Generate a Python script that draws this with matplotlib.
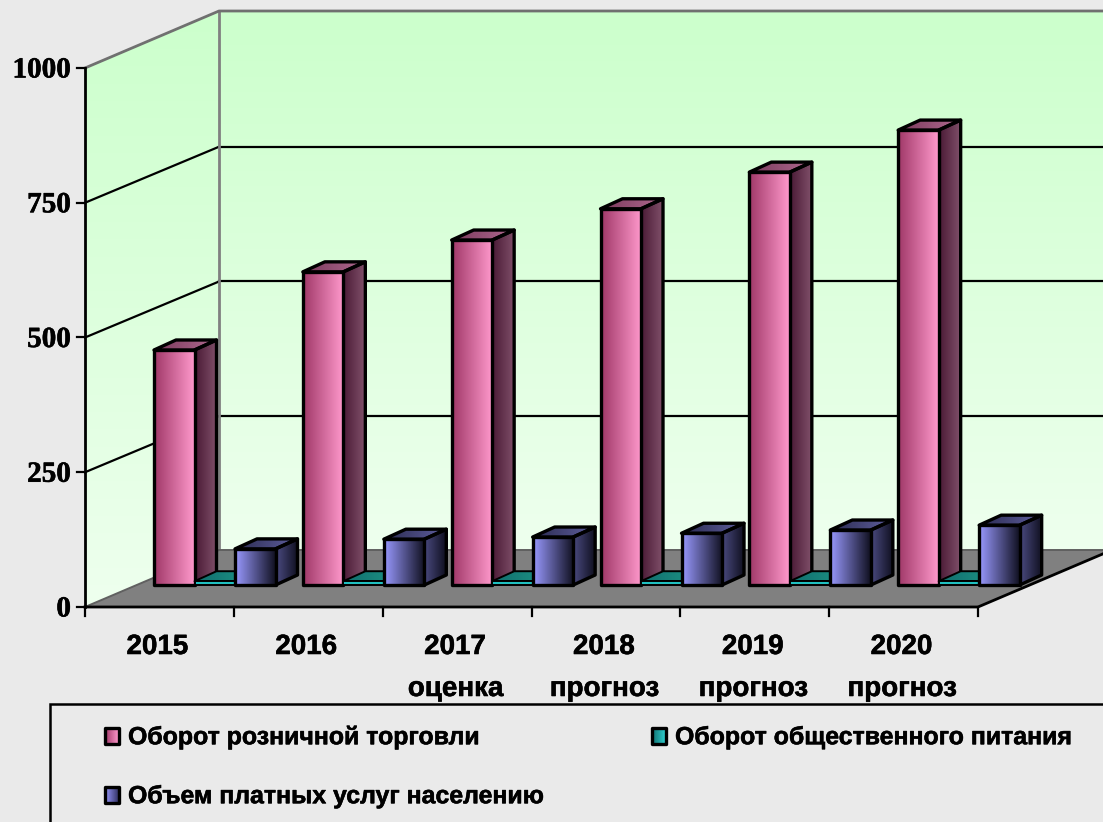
import numpy as np
import matplotlib
matplotlib.use('Agg')
import matplotlib.pyplot as plt
import matplotlib.patheffects as pe
from matplotlib.patches import Polygon, Rectangle

# chart data
years = ['2015', '2016', '2017', '2018', '2019', '2020']
notes = ['', '', 'оценка', 'прогноз', 'прогноз', 'прогноз']
y_ticks = [0, 250, 500, 750, 1000]
retail = [436, 581, 640, 698, 766, 844]
food = [7, 7, 7, 7, 7, 7]
services = [67, 85, 89, 96, 102, 111]
series_names = ['Оборот розничной торговли', 'Оборот общественного питания',
                'Объем платных услуг населению']

# geometry of the fake 3d box, in pixels
W, H = 1103, 822
X0, Y0 = 85, 607
Y_TOP = 68
X1 = 978
DX, DY = 134, 57
SCALE = (Y0 - Y_TOP) / 1000
CAT_W = (X1 - X0) / len(years)
BASE_Y = 585
BAR_W = 40.5
BAR_DX, BAR_DY = 22, 10
bold = [pe.withStroke(linewidth=0.4, foreground='black')]


def val_y(v, base=Y0):
    return base - v * SCALE


def grad_poly(ax, pts, c0, c1, vertical=False, z=2, edge=True, lw=2.4):
    # gradient filled polygon clipped from an image
    pts = np.array(pts, dtype=float)
    c0 = np.array(matplotlib.colors.to_rgb(c0))
    c1 = np.array(matplotlib.colors.to_rgb(c1))
    t = np.linspace(0, 1, 64)[:, None]
    img = c0 * (1 - t) + c1 * t
    img = img[:, None, :] if vertical else img[None, :, :]
    ext = [pts[:, 0].min(), pts[:, 0].max(), pts[:, 1].max(), pts[:, 1].min()]
    im = ax.imshow(img, extent=ext, aspect='auto', zorder=z, origin='upper', interpolation='bilinear')
    im.set_clip_path(Polygon(pts, transform=ax.transData))
    if edge:
        ax.add_patch(Polygon(pts, fill=False, ec='black', lw=lw, zorder=z + 0.1, joinstyle='round'))


def bar3d(ax, x, v, front, side, top, z, lw=2.4):
    h = v * SCALE
    yt = BASE_Y - h
    xr = x + BAR_W
    grad_poly(ax, [(xr, BASE_Y), (xr + BAR_DX, BASE_Y - BAR_DY), (xr + BAR_DX, yt - BAR_DY), (xr, yt)],
              side[0], side[1], z=z, lw=lw)
    grad_poly(ax, [(x, yt), (xr, yt), (xr + BAR_DX, yt - BAR_DY), (x + BAR_DX, yt - BAR_DY)],
              top[0], top[1], z=z, lw=lw)
    grad_poly(ax, [(x, BASE_Y), (xr, BASE_Y), (xr, yt), (x, yt)], front[0], front[1], z=z + 0.2, lw=lw)


fig = plt.figure(figsize=(W / 100, H / 100), dpi=100, facecolor='#EAEAEA')
ax = fig.add_axes([0, 0, 1, 1])
ax.set_facecolor('#EAEAEA')

# walls
far_x = W + 20
grad_poly(ax, [(X0 + DX, Y_TOP - DY), (far_x, Y_TOP - DY), (far_x, Y0 - DY), (X0 + DX, Y0 - DY)],
          '#CCFFCC', '#EEFFEE', vertical=True, z=1, edge=False)
grad_poly(ax, [(X0, Y_TOP), (X0 + DX, Y_TOP - DY), (X0 + DX, Y0 - DY), (X0, Y0)],
          '#CCFFCC', '#EEFFEE', vertical=True, z=1, edge=False)

# floor
ax.add_patch(Polygon([(X0, Y0), (X1, Y0), (X1 + DX, Y0 - DY), (X0 + DX, Y0 - DY)],
                     fc='#808080', ec='none', zorder=1.5))

# grid and box lines
for v in y_ticks[1:-1]:
    y = val_y(v)
    ax.plot([X0, X0 + DX], [y, y - DY + 1], color='black', lw=1.6, zorder=1.7)
    ax.plot([X0 + DX, far_x], [y - DY + 1, y - DY + 1], color='black', lw=1.6, zorder=1.7)
ax.plot([X0 + DX, X0 + DX], [Y_TOP - DY, Y0 - DY], color='#808080', lw=2, zorder=1.7)
ax.plot([X0, X0 + DX, far_x], [Y_TOP, Y_TOP - DY, Y_TOP - DY], color='#707070', lw=2, zorder=1.7)
ax.plot([X0, X0 + DX, far_x], [Y0, Y0 - DY, Y0 - DY], color='#606060', lw=1.4, zorder=1.7)
ax.plot([X0, X0], [Y_TOP, Y0], color='black', lw=2, zorder=1.8)
ax.plot([X0, X1, X1 + DX], [Y0, Y0, Y0 - DY], color='black', lw=2, zorder=1.8)

# ticks and labels
for v in y_ticks:
    y = val_y(v)
    ax.plot([X0 - 8, X0], [y, y], color='black', lw=1.6, zorder=1.8)
    ax.text(71, y + 2, str(v), ha='right', va='center', family='Liberation Serif',
            fontweight='bold', fontsize=21, color='black', path_effects=bold)
for i in range(len(years) + 1):
    x = X0 + i * CAT_W
    ax.plot([x, x], [Y0, Y0 + 9], color='black', lw=1.6, zorder=1.8)
for i, (yr, note) in enumerate(zip(years, notes)):
    x = X0 + (i + 0.5) * CAT_W
    ax.text(x - 2, 647, yr, ha='center', va='center', family='Liberation Sans',
            fontweight='bold', fontsize=20, color='black', path_effects=bold)
    if note:
        ax.text(x - 1.5, 689, note, ha='center', va='center', family='Liberation Sans',
                fontweight='bold', fontsize=20, color='black', path_effects=bold)

# bars
pink = dict(front=('#A03868', '#FF99CC'), side=('#4A1A35', '#80506A'), top=('#7A3A5C', '#B06A90'))
teal = dict(front=('#20C0C0', '#20C0C0'), side=('#107070', '#107070'), top=('#106E6E', '#209888'))
blue = dict(front=('#9999FF', '#101020'), side=('#4A4A80', '#101020'), top=('#2A2A50', '#6060A0'))
for i in range(len(years)):
    x = 154 + i * CAT_W
    z = 3 + i
    bar3d(ax, x, retail[i], z=z, **pink)
    bar3d(ax, x + BAR_W, food[i], z=z + 0.3, lw=1.4, **teal)
    bar3d(ax, x + 2 * BAR_W, services[i], z=z + 0.6, **blue)

# legend box
ax.add_patch(Rectangle((50, 704), W, H, fc='#EAEAEA', ec='black', lw=1.8, zorder=20))
legend_pos = [(105, 736), (652, 736), (105, 795)]
legend_cols = [('#A03868', '#FF99CC'), ('#107070', '#30D0D0'), ('#9999FF', '#303060')]
for name, (lx, ly), cols in zip(series_names, legend_pos, legend_cols):
    grad_poly(ax, [(lx, ly - 8), (lx + 14, ly - 8), (lx + 14, ly + 8), (lx, ly + 8)],
              cols[0], cols[1], z=21)
    ax.text(lx + 23, ly + 1, name, ha='left', va='center', family='Liberation Sans',
            fontweight='bold', fontsize=17.9, color='black', zorder=22, path_effects=bold)

ax.set_xlim(0, W)
ax.set_ylim(H, 0)
ax.axis('off')
fig.savefig('out.png', dpi=100, facecolor=fig.get_facecolor())
